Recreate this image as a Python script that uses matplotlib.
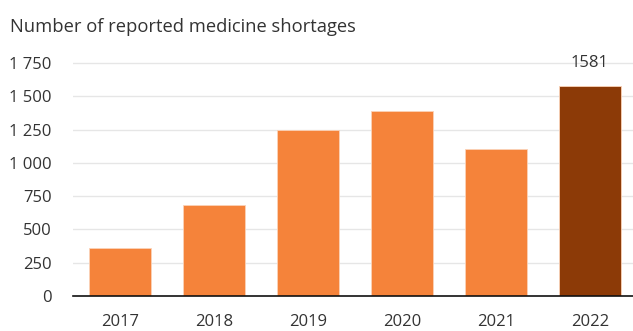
import matplotlib
matplotlib.use("Agg")
import matplotlib.pyplot as plt
from matplotlib.ticker import FuncFormatter

years = ["2017", "2018", "2019", "2020", "2021", "2022"]
shortages = [360, 680, 1250, 1390, 1105, 1581]
highlight_year = "2022"

ORANGE = "#F5833A"
BROWN = "#8C3A07"

plt.rcParams["font.family"] = ["Open Sans", "DejaVu Sans"]

fig = plt.figure(figsize=(6.33, 3.31), dpi=100)
ax = fig.add_axes([73 / 633, 1 - 296 / 331, 560 / 633, 233 / 331 * 1.2])

colors = [BROWN if y == highlight_year else ORANGE for y in years]
x = range(len(years))
ax.bar(x, shortages, width=0.66, color=colors, edgecolor="#FBD3B8",
       linewidth=0.6, zorder=3)

# value label only for the highlighted year
i = years.index(highlight_year)
ax.text(i, shortages[i] + 110, str(shortages[i]), ha="center", va="bottom",
        fontsize=12, color="#333333")

ax.set_xlim(-0.5, len(years) - 0.54)
ax.set_ylim(0, 1750 * 1.2)
ax.set_yticks(range(0, 1751, 250))
ax.yaxis.set_major_formatter(FuncFormatter(lambda v, p: f"{int(v):,}".replace(",", " ")))
ax.set_xticks(list(x))
ax.set_xticklabels(years)

ax.grid(axis="y", color="#E6E6E6", linewidth=1, zorder=0)
for s in ["top", "right", "left"]:
    ax.spines[s].set_visible(False)
ax.spines["bottom"].set_color("#111111")
ax.spines["bottom"].set_linewidth(1.2)
ax.spines["bottom"].set_zorder(4)
ax.tick_params(axis="both", length=0, labelsize=12, colors="#333333")
ax.tick_params(axis="y", pad=15.5)
ax.tick_params(axis="x", pad=13)

fig.text(10 / 633, 1 - 27 / 331, "Number of reported medicine shortages",
         fontsize=13.2, color="#333333", va="center", ha="left")

fig.savefig("out.png", dpi=100)
